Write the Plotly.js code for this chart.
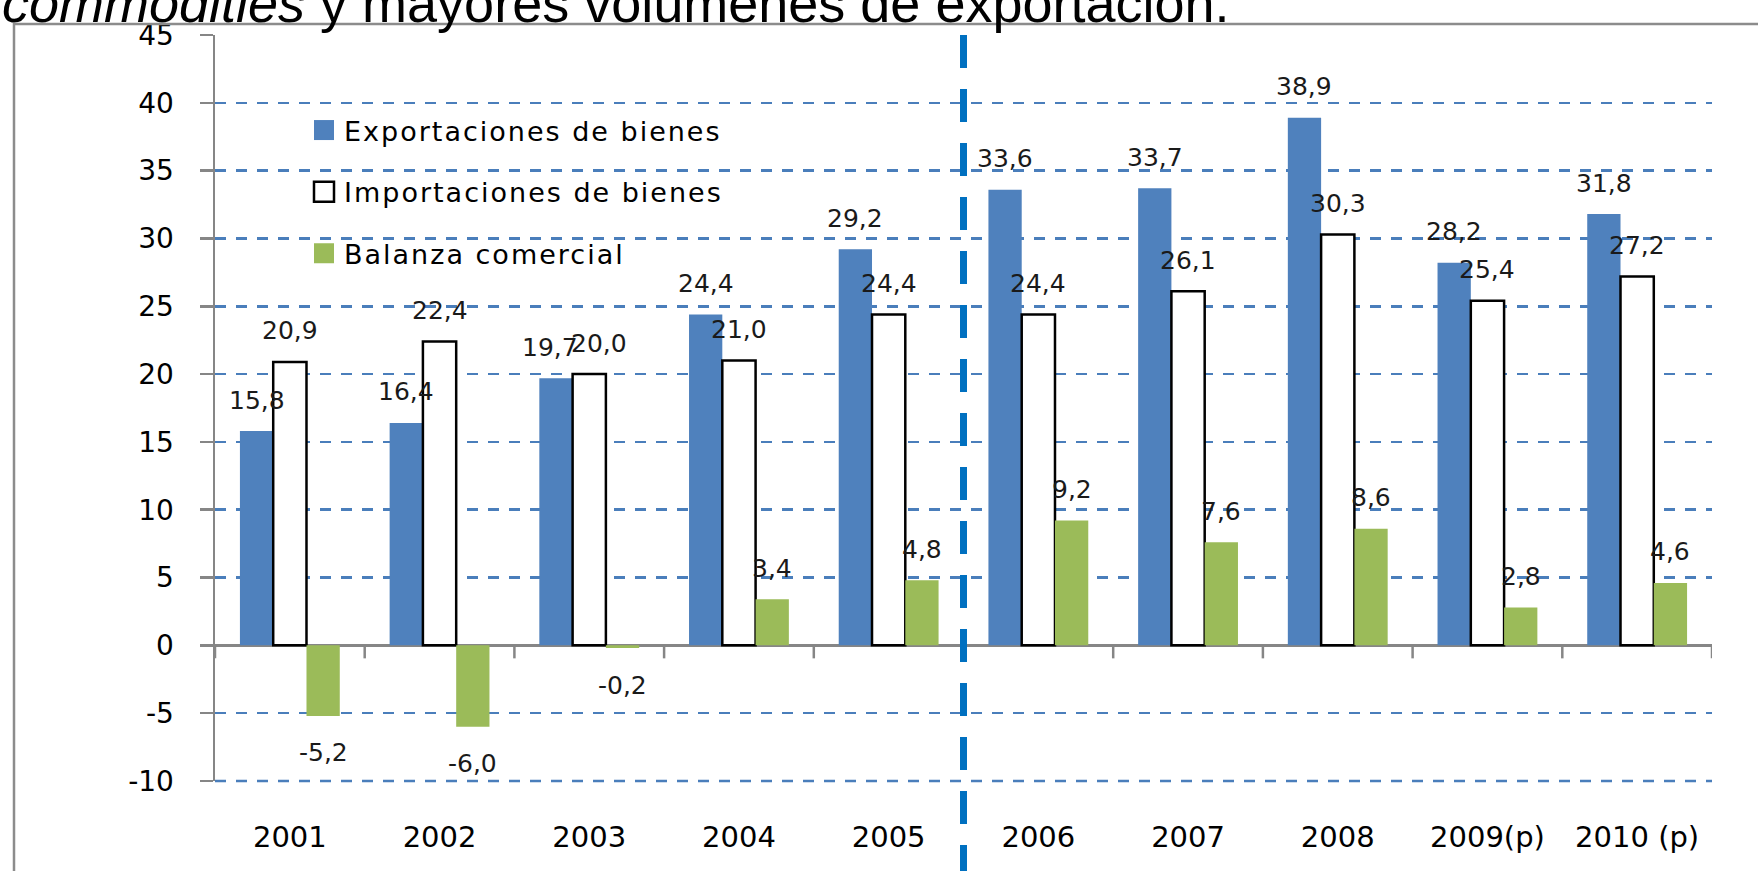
<!DOCTYPE html>
<html>
<head>
<meta charset="utf-8">
<script src="https://cdn.plot.ly/plotly-3.0.1.min.js"></script>
<style>
  html, body { margin: 0; padding: 0; background: #fff; }
  #chart { width: 1758px; height: 871px; }
  .legendtext { letter-spacing: 2px; }
</style>
</head>
<body>
<div id="chart"></div>
<script>
// ---- data ----
const categories = ['2001', '2002', '2003', '2004', '2005', '2006', '2007', '2008', '2009(p)', '2010 (p)'];
const exportaciones = [15.8, 16.4, 19.7, 24.4, 29.2, 33.6, 33.7, 38.9, 28.2, 31.8];
const importaciones = [20.9, 22.4, 20.0, 21.0, 24.4, 24.4, 26.1, 30.3, 25.4, 27.2];
const balanza = [-5.2, -6.0, -0.2, 3.4, 4.8, 9.2, 7.6, 8.6, 2.8, 4.6];
const seriesNames = ['Exportaciones de bienes', 'Importaciones de bienes', 'Balanza comercial'];
const yTickValues = [-10, -5, 0, 5, 10, 15, 20, 25, 30, 35, 40, 45];
const titleText = '<i>commodities</i> y mayores volúmenes de exportación.';

// ---- geometry ----
const W = 1758, H = 871;
const M = { l: 215, r: 46, t: 35, b: 90 };
const plotW = W - M.l - M.r, plotH = H - M.t - M.b;
const px2x = px => (px - M.l) / plotW;
const px2y = py => 1 - (py - M.t) / plotH;

const colors = ['#4F81BD', '#FFFFFF', '#9BBB59'];
const series = [exportaciones, importaciones, balanza];
const gridColor = '#4a7ebb', gridDash = '11px,10px';

const traces = series.map((vals, i) => ({
  type: 'bar',
  name: seriesNames[i],
  legendgroup: 'g' + i,
  x: categories,
  y: vals,
  marker: {
    color: colors[i],
    line: { color: i === 1 ? '#000000' : colors[i], width: i === 1 ? 2.5 : 0 }
  },
  hoverinfo: 'x+y'
}));

// data labels (x given as category index to avoid numeric-string ambiguity)
const groupWidthFrac = 1 - 0.333;
const catPx = plotW / categories.length;
const barPx = catPx * groupWidthFrac / 3;
const labelNudge = { '0-2': -6, '1-2': 10 }; // series-category horizontal nudges (px)
const annotations = [];
series.forEach((vals, i) => {
  vals.forEach((v, j) => {
    annotations.push({
      x: j, y: v, xref: 'x', yref: 'y',
      text: v.toFixed(1).replace('.', ','),
      showarrow: false,
      xshift: (i - 1) * barPx + (labelNudge[i + '-' + j] || 0),
      yshift: v >= 0 ? 31 : -37,
      font: { family: 'DejaVu Sans', size: 25, color: '#1a1a1a' }
    });
  });
});
annotations.push({
  xref: 'paper', yref: 'paper',
  x: px2x(0), y: px2y(35), xanchor: 'left', yanchor: 'bottom',
  text: titleText, showarrow: false,
  font: { family: 'Liberation Sans', size: 54, color: '#000' }
});

// shapes
const shapes = [];
// bottom gridline at the lowest tick (Plotly skips the grid line on the plot's bottom edge)
shapes.push({
  type: 'line', xref: 'paper', yref: 'paper', layer: 'below',
  x0: 0, x1: 1, y0: 0, y1: 0,
  line: { color: gridColor, width: 2.5, dash: gridDash }
});
for (let j = 0; j <= categories.length; j++) {
  shapes.push({
    type: 'line', xref: 'x', yref: 'y',
    x0: j - 0.5, x1: j - 0.5,
    ysizemode: 'pixel', yanchor: 0, y0: 0, y1: -13,
    line: { color: '#868686', width: 2.5 }
  });
}
shapes.push({
  type: 'line', xref: 'x', yref: 'paper',
  x0: 4.5, x1: 4.5, y0: 1, y1: px2y(H + 5),
  line: { color: '#0070C0', width: 7, dash: '33px,21px' }
});
shapes.push({
  type: 'path', xref: 'paper', yref: 'paper',
  path: 'M ' + px2x(14) + ' ' + px2y(H + 5) + ' L ' + px2x(14) + ' ' + px2y(24) + ' L ' + px2x(W + 5) + ' ' + px2y(24),
  line: { color: '#8c8c8c', width: 2.5 }
});

const layout = {
  width: W, height: H,
  margin: { l: M.l, r: M.r, t: M.t, b: M.b, pad: 0 },
  paper_bgcolor: '#ffffff', plot_bgcolor: '#ffffff',
  barmode: 'group', bargap: 0.333, bargroupgap: 0,
  font: { family: 'DejaVu Sans', color: '#000' },
  showlegend: true,
  legend: {
    x: px2x(304), y: px2y(106), xanchor: 'left', yanchor: 'top',
    font: { family: 'DejaVu Sans', size: 27, color: '#000' },
    tracegroupgap: 23.5, bgcolor: 'rgba(0,0,0,0)', traceorder: 'grouped'
  },
  xaxis: {
    type: 'category', categoryorder: 'array', categoryarray: categories,
    range: [-0.5, categories.length - 0.5], autorange: false,
    showgrid: false, showline: false, zeroline: false, ticks: '',
    tickfont: { family: 'DejaVu Sans', size: 29, color: '#000' },
    ticklabelstandoff: 36
  },
  yaxis: {
    range: [-10, 45], autorange: false, tickvals: yTickValues, ticktext: yTickValues.map(String),
    showline: true, linecolor: '#868686', linewidth: 2.5,
    ticks: 'outside', ticklen: 13, tickwidth: 2.5, tickcolor: '#868686',
    showgrid: true, gridcolor: gridColor, gridwidth: 2.5, griddash: gridDash,
    zeroline: true, zerolinecolor: '#868686', zerolinewidth: 3,
    tickfont: { family: 'DejaVu Sans', size: 28, color: '#000' },
    ticklabelstandoff: 20
  },
  annotations: annotations,
  shapes: shapes
};

Plotly.newPlot('chart', traces, layout, { displayModeBar: false, staticPlot: true }).then(gd => {
  gd.querySelectorAll('.legendpoints path').forEach(p => p.setAttribute('d', 'M10,10H-10V-10H10Z'));
});
</script>
</body>
</html>
